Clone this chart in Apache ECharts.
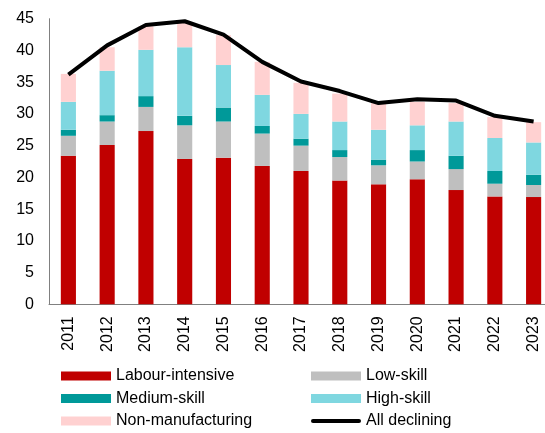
<!DOCTYPE html>
<html>
<head>
<meta charset="utf-8">
<script src="https://cdn.jsdelivr.net/npm/echarts@6/dist/echarts.min.js"></script>
<style>
html, body { margin: 0; padding: 0; background: #fff; overflow: hidden; }
/* plot area runs a little past the right edge of the window, as in the original */
#chart { width: 553px; height: 433px; }
</style>
</head>
<body>
<div id="chart"></div>
<script>
var years = ['2011','2012','2013','2014','2015','2016','2017','2018','2019','2020','2021','2022','2023'];
var labourIntensive = [23.4, 25.1, 27.3, 22.9, 23.1, 21.8, 21.0, 19.5, 18.9, 19.7, 18.0, 17.0, 16.9];
var lowSkill        = [3.15, 3.7, 3.8, 5.3, 5.7, 5.1, 4.0, 3.7, 3.0, 2.8, 3.3, 2.0, 1.9];
var mediumSkill     = [0.95, 1.0, 1.7, 1.5, 2.2, 1.2, 1.1, 1.1, 0.9, 1.8, 2.1, 2.0, 1.6];
var highSkill       = [4.4, 7.0, 7.3, 10.8, 6.7, 4.9, 3.9, 4.5, 4.7, 3.9, 5.4, 5.2, 5.1];
var nonManuf        = [4.4, 3.7, 3.7, 4.0, 4.7, 5.2, 4.9, 4.4, 4.2, 3.7, 2.9, 3.3, 3.2];
var allDeclining    = [36.2, 40.8, 44.0, 44.6, 42.5, 38.2, 35.1, 33.6, 31.7, 32.3, 32.1, 29.7, 28.8];

var font = 'Liberation Sans, Arial, sans-serif';

function barSeries(name, data, color) {
    return {
        name: name,
        type: 'bar',
        stack: 'total',
        barWidth: '39%',
        data: data,
        itemStyle: { color: color },
        emphasis: { disabled: true }
    };
}

// two columns of legend, three rows each
function legendCol(left, items) {
    return {
        orient: 'vertical',
        left: left,
        top: 368,
        padding: 0,
        itemWidth: 50,
        itemHeight: 9,
        itemGap: 6.5,
        textStyle: { fontSize: 16, color: '#000', fontFamily: font },
        data: items
    };
}

var myChart = echarts.init(document.getElementById('chart'));
var option = {
    animation: false,
    textStyle: { fontFamily: font },
    grid: { left: 49, right: 0, top: 18.7, bottom: 128.7 },
    legend: [
        legendCol(61, [
            { name: 'Labour-intensive', icon: 'rect' },
            { name: 'Medium-skill', icon: 'rect' },
            { name: 'Non-manufacturing', icon: 'rect' }
        ]),
        legendCol(311, [
            { name: 'Low-skill', icon: 'rect' },
            { name: 'High-skill', icon: 'rect' },
            { name: 'All declining', icon: 'path://M2,0H48A2,2 0 0 1 48,4H2A2,2 0 0 1 2,0Z' }
        ])
    ],
    xAxis: {
        type: 'category',
        data: years,
        axisLine: { lineStyle: { color: '#808080', width: 1 } },
        axisTick: { show: false },
        axisLabel: { rotate: 90, fontSize: 16, color: '#000', margin: 12, fontFamily: font }
    },
    yAxis: {
        type: 'value',
        min: 0,
        max: 45,
        interval: 5,
        splitLine: { show: false },
        axisLine: { show: true, lineStyle: { color: '#808080', width: 1 } },
        axisTick: { show: false },
        axisLabel: { fontSize: 16, color: '#000', margin: 15, fontFamily: font }
    },
    series: [
        barSeries('Labour-intensive', labourIntensive, '#C00000'),
        barSeries('Low-skill', lowSkill, '#BFBFBF'),
        barSeries('Medium-skill', mediumSkill, '#009999'),
        barSeries('High-skill', highSkill, '#7FD7E0'),
        barSeries('Non-manufacturing', nonManuf, '#FFD1D1'),
        {
            name: 'All declining',
            type: 'line',
            data: allDeclining,
            symbol: 'none',
            lineStyle: { color: '#000', width: 4, join: 'round' },
            itemStyle: { color: '#000' },
            emphasis: { disabled: true }
        }
    ]
};
myChart.setOption(option);
</script>
</body>
</html>
